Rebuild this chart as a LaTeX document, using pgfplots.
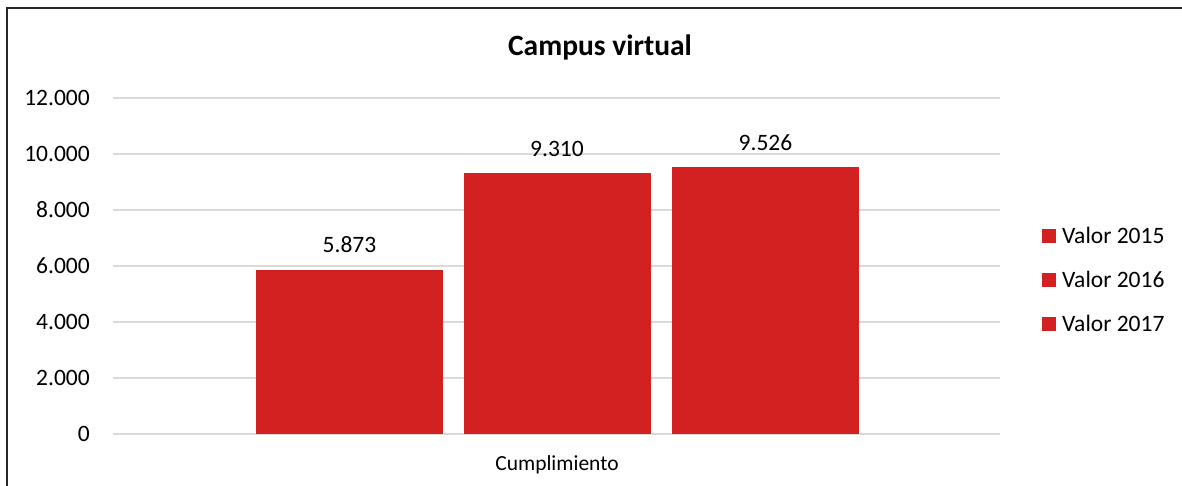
\documentclass[border=0pt]{standalone}
\usepackage{fontspec}
\setmainfont{Carlito}
\usepackage{pgfplots}
\pgfplotsset{compat=1.18}
\definecolor{barred}{RGB}{211,32,33}
\definecolor{gridgray}{RGB}{217,217,217}
\begin{document}
\begin{tikzpicture}
\useasboundingbox (0,0) rectangle (1182pt,486pt);
\fill[white] (0,0) rectangle (1182pt,486pt);
\draw[line width=1.4pt, color=black!85] (7pt,0) -- (7pt,478pt) -- (1182pt,478pt);
\node[font=\fontsize{29.5}{34}\selectfont\bfseries] at (600pt,439pt) {Campus virtual};
\begin{axis}[
  at={(113pt,52pt)}, anchor=south west,
  scale only axis, width=887pt, height=336pt,
  xmin=113, xmax=1000, ymin=0, ymax=12000,
  scaled y ticks=false, scaled x ticks=false,
  ybar, bar width=187pt, bar shift=0pt,
  axis line style={draw=none}, tick style={draw=none},
  major tick length=0pt,
  ymajorgrids, grid style={color=gridgray, line width=1.4pt},
  ytick={0,2000,4000,6000,8000,10000,12000},
  yticklabels={0,2.000,4.000,6.000,8.000,10.000,12.000},
  yticklabel style={font=\fontsize{23.5}{28}\selectfont, anchor=east, inner sep=0pt, xshift=-23pt},
  xtick={557}, xticklabels={Cumplimiento},
  xticklabel style={font=\fontsize{21.5}{26}\selectfont, anchor=north, inner sep=0pt, yshift=-21pt},
  nodes near coords, point meta=explicit symbolic,
  every node near coord/.append style={font=\fontsize{23.5}{28}\selectfont, anchor=base, inner sep=0pt, yshift=17pt},
  legend style={at={(axis cs:1000,5500)}, anchor=west, xshift=42pt, draw=none, fill=none,
    inner sep=0pt, font=\fontsize{23.5}{28}\selectfont, row sep=26pt,
    nodes={inner sep=0pt, anchor=west},
    /tikz/every odd column/.append style={column sep=6pt}},
  legend cell align=left,
  legend image code/.code={\fill[#1] (0pt,-7pt) rectangle (14pt,7pt);},
]
\addplot[fill=barred, draw=none] coordinates {(349.5,5873)[5.873]};
\addplot[fill=barred, draw=none] coordinates {(557,9310)[9.310]};
\addplot[fill=barred, draw=none] coordinates {(765.5,9526)[9.526]};
\legend{Valor 2015, Valor 2016, Valor 2017}
\end{axis}
\end{tikzpicture}
\end{document}
